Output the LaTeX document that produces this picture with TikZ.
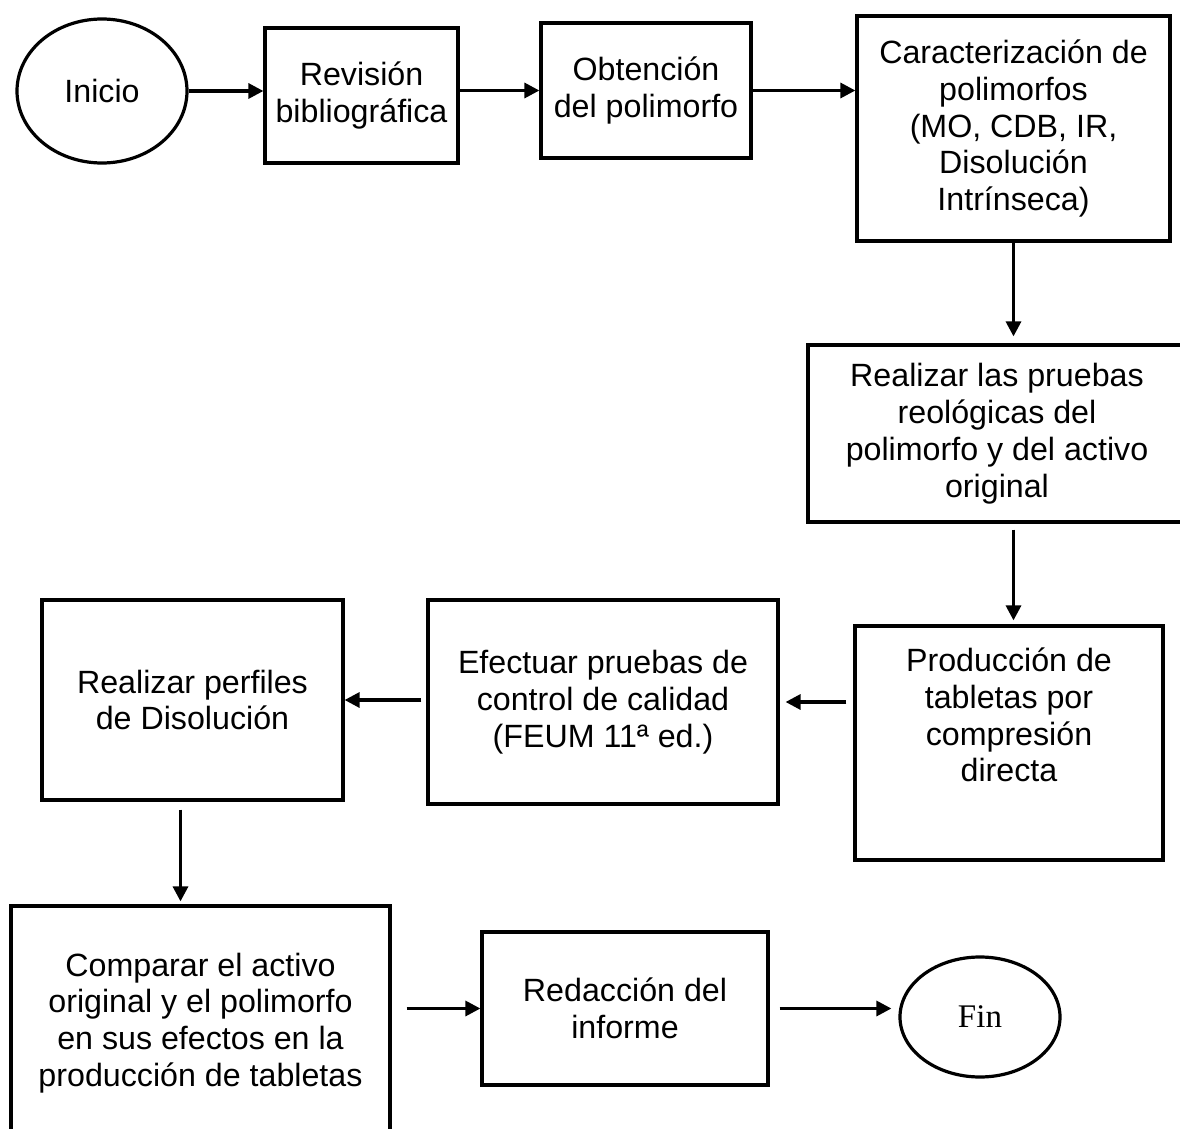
\documentclass[tikz,border=0pt]{standalone}
\usepackage{fontspec}
\setmainfont{Liberation Sans}
\newfontfamily\finfont{Liberation Serif}
\usetikzlibrary{arrows.meta,shapes.geometric}

\begin{document}
\begin{tikzpicture}[x=0.5pt, y=-0.5pt,
    paso/.style={draw, rectangle, line width=1.6pt, align=center, font=\fontsize{16.1}{18.4}\selectfont},
    extremo/.style={draw, ellipse, line width=1.6pt, inner sep=0pt, font=\fontsize{16.1}{18.4}\selectfont},
    flecha/.style={-{Triangle[length=7.5pt,width=7.5pt]}, line width=1.6pt}]
            \useasboundingbox (0,0) rectangle (1180,1129);
            \clip (0,0) rectangle (1180,1129);

            \node[extremo, minimum width=85pt, minimum height=72pt] (inicio) at (102,91) {Inicio};
            \node[paso, minimum width=96.5pt, minimum height=67.5pt] (revision) at (361.5,95.5) {Revisión\\bibliográfica};
            \node[paso, minimum width=105pt, minimum height=67.5pt] (obtencion) at (646,90.5) {Obtención\\del polimorfo};
            \node[paso, minimum width=156.5pt, minimum height=112.5pt] (caract) at (1013.5,128.5) {Caracterización de\\polimorfos\\(MO, CDB, IR,\\Disolución\\Intrínseca)};

            \node[paso, minimum width=189pt, minimum height=88.5pt] (reologia) at (997,433.5) {Realizar las pruebas\\reológicas del\\polimorfo y del activo\\original};

            \node[paso, minimum width=154pt, minimum height=117pt,
                  label={[paso, draw=none, yshift=14pt]center:Producción de\\tabletas por\\compresión\\directa}] (produccion) at (1009,743) {};
            \node[paso, minimum width=175pt, minimum height=102pt] (calidad) at (603,702) {Efectuar pruebas de\\control de calidad\\(FEUM 11ª ed.)};
            \node[paso, minimum width=150.5pt, minimum height=100pt] (perfiles) at (192.5,700) {Realizar perfiles\\de Disolución};

            \node[paso, minimum width=189.5pt, minimum height=117pt] (comparar) at (200.5,1023) {Comparar el activo\\original y el polimorfo\\en sus efectos en la\\producción de tabletas};
            \node[paso, minimum width=143pt, minimum height=76.5pt] (informe) at (625,1008.5) {Redacción del\\informe};
            \node[extremo, minimum width=80pt, minimum height=60pt, font=\finfont\fontsize{16.5}{18.4}\selectfont] (fin) at (980,1017) {Fin};

            \draw[flecha] (inicio.east) -- (inicio.east -| revision.west);
            \draw[flecha] (revision.east |- obtencion.west) -- (obtencion.west);
            \draw[flecha] (obtencion.east) -- (obtencion.east -| caract.west);
            \draw[flecha, shorten >=3.5pt] (caract.south) -- (caract.south |- reologia.north);
            \draw[flecha, shorten <=3pt, shorten >=2pt] (reologia.south -| caract.south) -- (caract.south |- produccion.north);
            \draw[flecha, shorten <=3.5pt, shorten >=3pt] (produccion.west |- calidad.east) -- (calidad.east);
            \draw[flecha, shorten <=2.5pt] (calidad.west |- perfiles.east) -- (perfiles.east);
            \draw[flecha, shorten <=4pt, shorten >=1.5pt] ([xshift=-6pt]perfiles.south) -- ([xshift=-6pt]perfiles.south |- comparar.north);
            \draw[flecha, shorten <=7.5pt] (comparar.east |- informe.west) -- (informe.west);
            \draw[flecha, shorten <=5pt, shorten >=3.5pt] (informe.east) -- (informe.east -| fin.west);
        \end{tikzpicture}
\end{document}
